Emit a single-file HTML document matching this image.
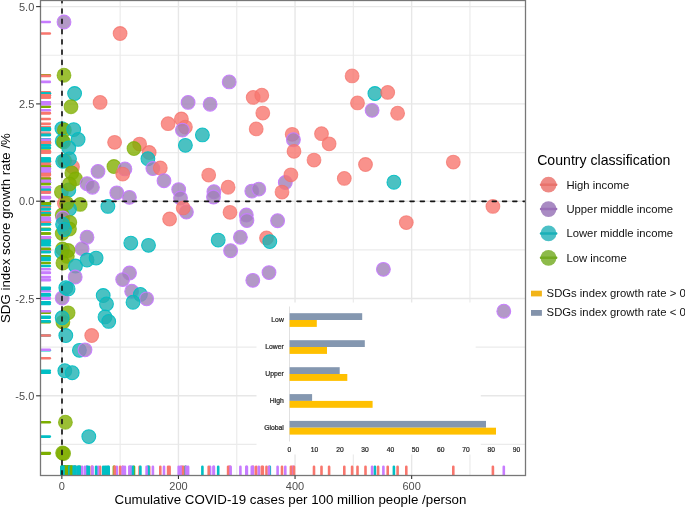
<!DOCTYPE html><html><head><meta charset="utf-8"><style>html,body{margin:0;padding:0;background:#fff;width:685px;height:508px;overflow:hidden}svg{display:block;will-change:transform}text{font-family:"Liberation Sans",sans-serif}</style></head><body>
<svg width="685" height="508" viewBox="0 0 685 508">
<defs><clipPath id="pc"><rect x="40.5" y="0.5" width="485.0" height="475.0"/></clipPath></defs>
<g clip-path="url(#pc)"><line x1="120.15" y1="0.5" x2="120.15" y2="475.5" stroke="#ebebeb" stroke-width="1.2"/><line x1="236.75" y1="0.5" x2="236.75" y2="475.5" stroke="#ebebeb" stroke-width="1.2"/><line x1="353.35" y1="0.5" x2="353.35" y2="475.5" stroke="#ebebeb" stroke-width="1.2"/><line x1="469.95" y1="0.5" x2="469.95" y2="475.5" stroke="#ebebeb" stroke-width="1.2"/><line x1="40.5" y1="55.25" x2="525.5" y2="55.25" stroke="#ebebeb" stroke-width="1.2"/><line x1="40.5" y1="152.55" x2="525.5" y2="152.55" stroke="#ebebeb" stroke-width="1.2"/><line x1="40.5" y1="249.85" x2="525.5" y2="249.85" stroke="#ebebeb" stroke-width="1.2"/><line x1="40.5" y1="347.15" x2="525.5" y2="347.15" stroke="#ebebeb" stroke-width="1.2"/><line x1="40.5" y1="444.45" x2="525.5" y2="444.45" stroke="#ebebeb" stroke-width="1.2"/><line x1="61.85" y1="0.5" x2="61.85" y2="475.5" stroke="#e7e7e7" stroke-width="1.4"/><line x1="178.45" y1="0.5" x2="178.45" y2="475.5" stroke="#e7e7e7" stroke-width="1.4"/><line x1="295.05" y1="0.5" x2="295.05" y2="475.5" stroke="#e7e7e7" stroke-width="1.4"/><line x1="411.65" y1="0.5" x2="411.65" y2="475.5" stroke="#e7e7e7" stroke-width="1.4"/><line x1="40.5" y1="6.60" x2="525.5" y2="6.60" stroke="#e7e7e7" stroke-width="1.4"/><line x1="40.5" y1="103.90" x2="525.5" y2="103.90" stroke="#e7e7e7" stroke-width="1.4"/><line x1="40.5" y1="201.20" x2="525.5" y2="201.20" stroke="#e7e7e7" stroke-width="1.4"/><line x1="40.5" y1="298.50" x2="525.5" y2="298.50" stroke="#e7e7e7" stroke-width="1.4"/><line x1="40.5" y1="395.80" x2="525.5" y2="395.80" stroke="#e7e7e7" stroke-width="1.4"/>
<circle cx="64.0" cy="22.0" r="6.9" fill="#A080B9" fill-opacity="0.80" stroke="#C77CFF" stroke-opacity="0.95" stroke-width="1.05"/>
<circle cx="120.1" cy="33.5" r="6.9" fill="#F8776F" fill-opacity="0.80" stroke="#F3716A" stroke-opacity="0.70" stroke-width="1.05"/>
<circle cx="64.0" cy="75.2" r="6.9" fill="#82AF01" fill-opacity="0.80" stroke="#7CAE00" stroke-opacity="0.70" stroke-width="1.05"/>
<circle cx="74.6" cy="93.5" r="6.9" fill="#1EB2B3" fill-opacity="0.80" stroke="#00BFC4" stroke-opacity="0.90" stroke-width="1.05"/>
<circle cx="229.2" cy="81.9" r="6.9" fill="#A080B9" fill-opacity="0.80" stroke="#C77CFF" stroke-opacity="0.95" stroke-width="1.05"/>
<circle cx="253.2" cy="97.4" r="6.9" fill="#F8776F" fill-opacity="0.80" stroke="#F3716A" stroke-opacity="0.70" stroke-width="1.05"/>
<circle cx="261.8" cy="95.2" r="6.9" fill="#F8776F" fill-opacity="0.80" stroke="#F3716A" stroke-opacity="0.70" stroke-width="1.05"/>
<circle cx="352.1" cy="75.9" r="6.9" fill="#F8776F" fill-opacity="0.80" stroke="#F3716A" stroke-opacity="0.70" stroke-width="1.05"/>
<circle cx="374.9" cy="93.5" r="6.9" fill="#1EB2B3" fill-opacity="0.80" stroke="#00BFC4" stroke-opacity="0.90" stroke-width="1.05"/>
<circle cx="387.7" cy="92.4" r="6.9" fill="#F8776F" fill-opacity="0.80" stroke="#F3716A" stroke-opacity="0.70" stroke-width="1.05"/>
<circle cx="357.5" cy="102.9" r="6.9" fill="#F8776F" fill-opacity="0.80" stroke="#F3716A" stroke-opacity="0.70" stroke-width="1.05"/>
<circle cx="372.1" cy="110.3" r="6.9" fill="#A080B9" fill-opacity="0.80" stroke="#C77CFF" stroke-opacity="0.95" stroke-width="1.05"/>
<circle cx="397.6" cy="113.2" r="6.9" fill="#F8776F" fill-opacity="0.80" stroke="#F3716A" stroke-opacity="0.70" stroke-width="1.05"/>
<circle cx="71.0" cy="106.7" r="6.9" fill="#82AF01" fill-opacity="0.80" stroke="#7CAE00" stroke-opacity="0.70" stroke-width="1.05"/>
<circle cx="100.1" cy="102.4" r="6.9" fill="#F8776F" fill-opacity="0.80" stroke="#F3716A" stroke-opacity="0.70" stroke-width="1.05"/>
<circle cx="188.1" cy="102.4" r="6.9" fill="#A080B9" fill-opacity="0.80" stroke="#C77CFF" stroke-opacity="0.95" stroke-width="1.05"/>
<circle cx="210.1" cy="104.2" r="6.9" fill="#A080B9" fill-opacity="0.80" stroke="#C77CFF" stroke-opacity="0.95" stroke-width="1.05"/>
<circle cx="262.8" cy="113.1" r="6.9" fill="#F8776F" fill-opacity="0.80" stroke="#F3716A" stroke-opacity="0.70" stroke-width="1.05"/>
<circle cx="256.2" cy="128.9" r="6.9" fill="#F8776F" fill-opacity="0.80" stroke="#F3716A" stroke-opacity="0.70" stroke-width="1.05"/>
<circle cx="292.2" cy="134.3" r="6.9" fill="#F8776F" fill-opacity="0.80" stroke="#F3716A" stroke-opacity="0.70" stroke-width="1.05"/>
<circle cx="293.4" cy="139.7" r="6.9" fill="#A080B9" fill-opacity="0.80" stroke="#C77CFF" stroke-opacity="0.95" stroke-width="1.05"/>
<circle cx="294.0" cy="151.3" r="6.9" fill="#F8776F" fill-opacity="0.80" stroke="#F3716A" stroke-opacity="0.70" stroke-width="1.05"/>
<circle cx="321.5" cy="133.7" r="6.9" fill="#F8776F" fill-opacity="0.80" stroke="#F3716A" stroke-opacity="0.70" stroke-width="1.05"/>
<circle cx="329.1" cy="143.8" r="6.9" fill="#F8776F" fill-opacity="0.80" stroke="#F3716A" stroke-opacity="0.70" stroke-width="1.05"/>
<circle cx="314.0" cy="160.1" r="6.9" fill="#F8776F" fill-opacity="0.80" stroke="#F3716A" stroke-opacity="0.70" stroke-width="1.05"/>
<circle cx="365.5" cy="164.5" r="6.9" fill="#F8776F" fill-opacity="0.80" stroke="#F3716A" stroke-opacity="0.70" stroke-width="1.05"/>
<circle cx="168.1" cy="123.7" r="6.9" fill="#F8776F" fill-opacity="0.80" stroke="#F3716A" stroke-opacity="0.70" stroke-width="1.05"/>
<circle cx="181.4" cy="119.0" r="6.9" fill="#F8776F" fill-opacity="0.80" stroke="#F3716A" stroke-opacity="0.70" stroke-width="1.05"/>
<circle cx="185.4" cy="127.1" r="6.9" fill="#F8776F" fill-opacity="0.80" stroke="#F3716A" stroke-opacity="0.70" stroke-width="1.05"/>
<circle cx="182.4" cy="130.1" r="6.9" fill="#A080B9" fill-opacity="0.80" stroke="#C77CFF" stroke-opacity="0.95" stroke-width="1.05"/>
<circle cx="202.4" cy="134.9" r="6.9" fill="#1EB2B3" fill-opacity="0.80" stroke="#00BFC4" stroke-opacity="0.90" stroke-width="1.05"/>
<circle cx="185.4" cy="145.3" r="6.9" fill="#1EB2B3" fill-opacity="0.80" stroke="#00BFC4" stroke-opacity="0.90" stroke-width="1.05"/>
<circle cx="139.6" cy="144.1" r="6.9" fill="#F8776F" fill-opacity="0.80" stroke="#F3716A" stroke-opacity="0.70" stroke-width="1.05"/>
<circle cx="134.0" cy="148.5" r="6.9" fill="#82AF01" fill-opacity="0.80" stroke="#7CAE00" stroke-opacity="0.70" stroke-width="1.05"/>
<circle cx="149.2" cy="152.5" r="6.9" fill="#F8776F" fill-opacity="0.80" stroke="#F3716A" stroke-opacity="0.70" stroke-width="1.05"/>
<circle cx="147.9" cy="158.7" r="6.9" fill="#1EB2B3" fill-opacity="0.80" stroke="#00BFC4" stroke-opacity="0.90" stroke-width="1.05"/>
<circle cx="114.6" cy="142.3" r="6.9" fill="#F8776F" fill-opacity="0.80" stroke="#F3716A" stroke-opacity="0.70" stroke-width="1.05"/>
<circle cx="61.9" cy="128.6" r="6.9" fill="#1EB2B3" fill-opacity="0.80" stroke="#00BFC4" stroke-opacity="0.90" stroke-width="1.05"/>
<circle cx="64.4" cy="130.0" r="6.9" fill="#82AF01" fill-opacity="0.80" stroke="#7CAE00" stroke-opacity="0.70" stroke-width="1.05"/>
<circle cx="73.7" cy="129.6" r="6.9" fill="#1EB2B3" fill-opacity="0.80" stroke="#00BFC4" stroke-opacity="0.90" stroke-width="1.05"/>
<circle cx="78.1" cy="139.4" r="6.9" fill="#1EB2B3" fill-opacity="0.80" stroke="#00BFC4" stroke-opacity="0.90" stroke-width="1.05"/>
<circle cx="62.2" cy="141.1" r="6.9" fill="#1EB2B3" fill-opacity="0.80" stroke="#00BFC4" stroke-opacity="0.90" stroke-width="1.05"/>
<circle cx="63.6" cy="141.9" r="6.9" fill="#82AF01" fill-opacity="0.80" stroke="#7CAE00" stroke-opacity="0.70" stroke-width="1.05"/>
<circle cx="68.8" cy="147.8" r="6.9" fill="#1EB2B3" fill-opacity="0.80" stroke="#00BFC4" stroke-opacity="0.90" stroke-width="1.05"/>
<circle cx="72.5" cy="166.8" r="6.9" fill="#F8776F" fill-opacity="0.80" stroke="#F3716A" stroke-opacity="0.70" stroke-width="1.05"/>
<circle cx="64.6" cy="160.8" r="6.9" fill="#82AF01" fill-opacity="0.80" stroke="#7CAE00" stroke-opacity="0.70" stroke-width="1.05"/>
<circle cx="62.7" cy="161.3" r="6.9" fill="#1EB2B3" fill-opacity="0.80" stroke="#00BFC4" stroke-opacity="0.90" stroke-width="1.05"/>
<circle cx="69.5" cy="158.9" r="6.9" fill="#1EB2B3" fill-opacity="0.80" stroke="#00BFC4" stroke-opacity="0.90" stroke-width="1.05"/>
<circle cx="71.8" cy="172.9" r="6.9" fill="#82AF01" fill-opacity="0.80" stroke="#7CAE00" stroke-opacity="0.70" stroke-width="1.05"/>
<circle cx="61.4" cy="192.1" r="6.9" fill="#82AF01" fill-opacity="0.80" stroke="#7CAE00" stroke-opacity="0.70" stroke-width="1.05"/>
<circle cx="68.8" cy="189.9" r="6.9" fill="#1EB2B3" fill-opacity="0.80" stroke="#00BFC4" stroke-opacity="0.90" stroke-width="1.05"/>
<circle cx="75.5" cy="178.8" r="6.9" fill="#82AF01" fill-opacity="0.80" stroke="#7CAE00" stroke-opacity="0.70" stroke-width="1.05"/>
<circle cx="69.5" cy="184.0" r="6.9" fill="#82AF01" fill-opacity="0.80" stroke="#7CAE00" stroke-opacity="0.70" stroke-width="1.05"/>
<circle cx="87.0" cy="183.7" r="6.9" fill="#A080B9" fill-opacity="0.80" stroke="#C77CFF" stroke-opacity="0.95" stroke-width="1.05"/>
<circle cx="92.4" cy="187.2" r="6.9" fill="#A080B9" fill-opacity="0.80" stroke="#C77CFF" stroke-opacity="0.95" stroke-width="1.05"/>
<circle cx="98.0" cy="171.4" r="6.9" fill="#A080B9" fill-opacity="0.80" stroke="#C77CFF" stroke-opacity="0.95" stroke-width="1.05"/>
<circle cx="113.9" cy="166.5" r="6.9" fill="#82AF01" fill-opacity="0.80" stroke="#7CAE00" stroke-opacity="0.70" stroke-width="1.05"/>
<circle cx="124.9" cy="168.9" r="6.9" fill="#A080B9" fill-opacity="0.80" stroke="#C77CFF" stroke-opacity="0.95" stroke-width="1.05"/>
<circle cx="122.7" cy="174.1" r="6.9" fill="#F8776F" fill-opacity="0.80" stroke="#F3716A" stroke-opacity="0.70" stroke-width="1.05"/>
<circle cx="116.8" cy="192.8" r="6.9" fill="#A080B9" fill-opacity="0.80" stroke="#C77CFF" stroke-opacity="0.95" stroke-width="1.05"/>
<circle cx="129.4" cy="197.3" r="6.9" fill="#A080B9" fill-opacity="0.80" stroke="#C77CFF" stroke-opacity="0.95" stroke-width="1.05"/>
<circle cx="107.9" cy="206.4" r="6.9" fill="#1EB2B3" fill-opacity="0.80" stroke="#00BFC4" stroke-opacity="0.90" stroke-width="1.05"/>
<circle cx="80.2" cy="204.4" r="6.9" fill="#82AF01" fill-opacity="0.80" stroke="#7CAE00" stroke-opacity="0.70" stroke-width="1.05"/>
<circle cx="64.4" cy="203.5" r="6.9" fill="#F8776F" fill-opacity="0.80" stroke="#F3716A" stroke-opacity="0.70" stroke-width="1.05"/>
<circle cx="69.5" cy="209.1" r="6.9" fill="#1EB2B3" fill-opacity="0.80" stroke="#00BFC4" stroke-opacity="0.90" stroke-width="1.05"/>
<circle cx="66.6" cy="203.2" r="6.9" fill="#82AF01" fill-opacity="0.80" stroke="#7CAE00" stroke-opacity="0.70" stroke-width="1.05"/>
<circle cx="62.2" cy="215.0" r="6.9" fill="#82AF01" fill-opacity="0.80" stroke="#7CAE00" stroke-opacity="0.70" stroke-width="1.05"/>
<circle cx="62.9" cy="218.0" r="6.9" fill="#A080B9" fill-opacity="0.80" stroke="#C77CFF" stroke-opacity="0.95" stroke-width="1.05"/>
<circle cx="69.8" cy="222.3" r="6.9" fill="#82AF01" fill-opacity="0.80" stroke="#7CAE00" stroke-opacity="0.70" stroke-width="1.05"/>
<circle cx="62.2" cy="233.5" r="6.9" fill="#82AF01" fill-opacity="0.80" stroke="#7CAE00" stroke-opacity="0.70" stroke-width="1.05"/>
<circle cx="69.5" cy="229.0" r="6.9" fill="#82AF01" fill-opacity="0.80" stroke="#7CAE00" stroke-opacity="0.70" stroke-width="1.05"/>
<circle cx="62.6" cy="224.2" r="6.9" fill="#1EB2B3" fill-opacity="0.80" stroke="#00BFC4" stroke-opacity="0.90" stroke-width="1.05"/>
<circle cx="64.5" cy="229.5" r="6.9" fill="#1EB2B3" fill-opacity="0.80" stroke="#00BFC4" stroke-opacity="0.90" stroke-width="1.05"/>
<circle cx="152.9" cy="168.5" r="6.9" fill="#A080B9" fill-opacity="0.80" stroke="#C77CFF" stroke-opacity="0.95" stroke-width="1.05"/>
<circle cx="160.3" cy="168.0" r="6.9" fill="#F8776F" fill-opacity="0.80" stroke="#F3716A" stroke-opacity="0.70" stroke-width="1.05"/>
<circle cx="164.0" cy="180.7" r="6.9" fill="#A080B9" fill-opacity="0.80" stroke="#C77CFF" stroke-opacity="0.95" stroke-width="1.05"/>
<circle cx="178.7" cy="189.6" r="6.9" fill="#A080B9" fill-opacity="0.80" stroke="#C77CFF" stroke-opacity="0.95" stroke-width="1.05"/>
<circle cx="180.5" cy="198.0" r="6.9" fill="#A080B9" fill-opacity="0.80" stroke="#C77CFF" stroke-opacity="0.95" stroke-width="1.05"/>
<circle cx="186.4" cy="212.0" r="6.9" fill="#A080B9" fill-opacity="0.80" stroke="#C77CFF" stroke-opacity="0.95" stroke-width="1.05"/>
<circle cx="183.2" cy="207.9" r="6.9" fill="#F8776F" fill-opacity="0.80" stroke="#F3716A" stroke-opacity="0.70" stroke-width="1.05"/>
<circle cx="169.6" cy="219.0" r="6.9" fill="#F8776F" fill-opacity="0.80" stroke="#F3716A" stroke-opacity="0.70" stroke-width="1.05"/>
<circle cx="208.7" cy="175.1" r="6.9" fill="#F8776F" fill-opacity="0.80" stroke="#F3716A" stroke-opacity="0.70" stroke-width="1.05"/>
<circle cx="213.9" cy="191.7" r="6.9" fill="#A080B9" fill-opacity="0.80" stroke="#C77CFF" stroke-opacity="0.95" stroke-width="1.05"/>
<circle cx="213.5" cy="197.0" r="6.9" fill="#A080B9" fill-opacity="0.80" stroke="#C77CFF" stroke-opacity="0.95" stroke-width="1.05"/>
<circle cx="285.3" cy="182.5" r="6.9" fill="#A080B9" fill-opacity="0.80" stroke="#C77CFF" stroke-opacity="0.95" stroke-width="1.05"/>
<circle cx="290.9" cy="174.8" r="6.9" fill="#F8776F" fill-opacity="0.80" stroke="#F3716A" stroke-opacity="0.70" stroke-width="1.05"/>
<circle cx="282.0" cy="192.1" r="6.9" fill="#F8776F" fill-opacity="0.80" stroke="#F3716A" stroke-opacity="0.70" stroke-width="1.05"/>
<circle cx="228.1" cy="187.2" r="6.9" fill="#F8776F" fill-opacity="0.80" stroke="#F3716A" stroke-opacity="0.70" stroke-width="1.05"/>
<circle cx="251.8" cy="191.1" r="6.9" fill="#A080B9" fill-opacity="0.80" stroke="#C77CFF" stroke-opacity="0.95" stroke-width="1.05"/>
<circle cx="258.8" cy="189.1" r="6.9" fill="#A080B9" fill-opacity="0.80" stroke="#C77CFF" stroke-opacity="0.95" stroke-width="1.05"/>
<circle cx="230.0" cy="212.3" r="6.9" fill="#F8776F" fill-opacity="0.80" stroke="#F3716A" stroke-opacity="0.70" stroke-width="1.05"/>
<circle cx="246.3" cy="215.0" r="6.9" fill="#A080B9" fill-opacity="0.80" stroke="#C77CFF" stroke-opacity="0.95" stroke-width="1.05"/>
<circle cx="246.9" cy="220.5" r="6.9" fill="#A080B9" fill-opacity="0.80" stroke="#C77CFF" stroke-opacity="0.95" stroke-width="1.05"/>
<circle cx="277.6" cy="220.7" r="6.9" fill="#A080B9" fill-opacity="0.80" stroke="#C77CFF" stroke-opacity="0.95" stroke-width="1.05"/>
<circle cx="344.3" cy="178.4" r="6.9" fill="#F8776F" fill-opacity="0.80" stroke="#F3716A" stroke-opacity="0.70" stroke-width="1.05"/>
<circle cx="393.9" cy="182.2" r="6.9" fill="#1EB2B3" fill-opacity="0.80" stroke="#00BFC4" stroke-opacity="0.90" stroke-width="1.05"/>
<circle cx="453.3" cy="162.1" r="6.9" fill="#F8776F" fill-opacity="0.80" stroke="#F3716A" stroke-opacity="0.70" stroke-width="1.05"/>
<circle cx="492.9" cy="206.4" r="6.9" fill="#F8776F" fill-opacity="0.80" stroke="#F3716A" stroke-opacity="0.70" stroke-width="1.05"/>
<circle cx="406.3" cy="222.6" r="6.9" fill="#F8776F" fill-opacity="0.80" stroke="#F3716A" stroke-opacity="0.70" stroke-width="1.05"/>
<circle cx="87.0" cy="237.2" r="6.9" fill="#A080B9" fill-opacity="0.80" stroke="#C77CFF" stroke-opacity="0.95" stroke-width="1.05"/>
<circle cx="82.1" cy="248.7" r="6.9" fill="#A080B9" fill-opacity="0.80" stroke="#C77CFF" stroke-opacity="0.95" stroke-width="1.05"/>
<circle cx="62.5" cy="249.0" r="6.9" fill="#82AF01" fill-opacity="0.80" stroke="#7CAE00" stroke-opacity="0.70" stroke-width="1.05"/>
<circle cx="61.8" cy="252.0" r="6.9" fill="#1EB2B3" fill-opacity="0.80" stroke="#00BFC4" stroke-opacity="0.90" stroke-width="1.05"/>
<circle cx="68.1" cy="250.5" r="6.9" fill="#82AF01" fill-opacity="0.80" stroke="#7CAE00" stroke-opacity="0.70" stroke-width="1.05"/>
<circle cx="67.3" cy="256.4" r="6.9" fill="#82AF01" fill-opacity="0.80" stroke="#7CAE00" stroke-opacity="0.70" stroke-width="1.05"/>
<circle cx="62.9" cy="263.0" r="6.9" fill="#82AF01" fill-opacity="0.80" stroke="#7CAE00" stroke-opacity="0.70" stroke-width="1.05"/>
<circle cx="75.5" cy="266.0" r="6.9" fill="#1EB2B3" fill-opacity="0.80" stroke="#00BFC4" stroke-opacity="0.90" stroke-width="1.05"/>
<circle cx="87.0" cy="260.0" r="6.9" fill="#1EB2B3" fill-opacity="0.80" stroke="#00BFC4" stroke-opacity="0.90" stroke-width="1.05"/>
<circle cx="96.1" cy="258.1" r="6.9" fill="#1EB2B3" fill-opacity="0.80" stroke="#00BFC4" stroke-opacity="0.90" stroke-width="1.05"/>
<circle cx="75.2" cy="277.0" r="6.9" fill="#A080B9" fill-opacity="0.80" stroke="#C77CFF" stroke-opacity="0.95" stroke-width="1.05"/>
<circle cx="130.8" cy="243.1" r="6.9" fill="#1EB2B3" fill-opacity="0.80" stroke="#00BFC4" stroke-opacity="0.90" stroke-width="1.05"/>
<circle cx="129.5" cy="273.0" r="6.9" fill="#A080B9" fill-opacity="0.80" stroke="#C77CFF" stroke-opacity="0.95" stroke-width="1.05"/>
<circle cx="122.7" cy="279.6" r="6.9" fill="#A080B9" fill-opacity="0.80" stroke="#C77CFF" stroke-opacity="0.95" stroke-width="1.05"/>
<circle cx="131.7" cy="291.2" r="6.9" fill="#A080B9" fill-opacity="0.80" stroke="#C77CFF" stroke-opacity="0.95" stroke-width="1.05"/>
<circle cx="62.2" cy="298.0" r="6.9" fill="#A080B9" fill-opacity="0.80" stroke="#C77CFF" stroke-opacity="0.95" stroke-width="1.05"/>
<circle cx="65.8" cy="287.7" r="6.9" fill="#1EB2B3" fill-opacity="0.80" stroke="#00BFC4" stroke-opacity="0.90" stroke-width="1.05"/>
<circle cx="68.1" cy="288.9" r="6.9" fill="#1EB2B3" fill-opacity="0.80" stroke="#00BFC4" stroke-opacity="0.90" stroke-width="1.05"/>
<circle cx="103.2" cy="295.5" r="6.9" fill="#1EB2B3" fill-opacity="0.80" stroke="#00BFC4" stroke-opacity="0.90" stroke-width="1.05"/>
<circle cx="148.5" cy="245.3" r="6.9" fill="#1EB2B3" fill-opacity="0.80" stroke="#00BFC4" stroke-opacity="0.90" stroke-width="1.05"/>
<circle cx="218.2" cy="240.1" r="6.9" fill="#1EB2B3" fill-opacity="0.80" stroke="#00BFC4" stroke-opacity="0.90" stroke-width="1.05"/>
<circle cx="230.6" cy="250.7" r="6.9" fill="#A080B9" fill-opacity="0.80" stroke="#C77CFF" stroke-opacity="0.95" stroke-width="1.05"/>
<circle cx="240.4" cy="237.2" r="6.9" fill="#A080B9" fill-opacity="0.80" stroke="#C77CFF" stroke-opacity="0.95" stroke-width="1.05"/>
<circle cx="266.5" cy="237.9" r="6.9" fill="#F8776F" fill-opacity="0.80" stroke="#F3716A" stroke-opacity="0.70" stroke-width="1.05"/>
<circle cx="269.8" cy="241.6" r="6.9" fill="#1EB2B3" fill-opacity="0.80" stroke="#00BFC4" stroke-opacity="0.90" stroke-width="1.05"/>
<circle cx="269.0" cy="272.6" r="6.9" fill="#A080B9" fill-opacity="0.80" stroke="#C77CFF" stroke-opacity="0.95" stroke-width="1.05"/>
<circle cx="252.8" cy="280.3" r="6.9" fill="#A080B9" fill-opacity="0.80" stroke="#C77CFF" stroke-opacity="0.95" stroke-width="1.05"/>
<circle cx="383.4" cy="269.3" r="6.9" fill="#A080B9" fill-opacity="0.80" stroke="#C77CFF" stroke-opacity="0.95" stroke-width="1.05"/>
<circle cx="68.1" cy="312.8" r="6.9" fill="#82AF01" fill-opacity="0.80" stroke="#7CAE00" stroke-opacity="0.70" stroke-width="1.05"/>
<circle cx="62.9" cy="322.1" r="6.9" fill="#82AF01" fill-opacity="0.80" stroke="#7CAE00" stroke-opacity="0.70" stroke-width="1.05"/>
<circle cx="62.2" cy="317.7" r="6.9" fill="#1EB2B3" fill-opacity="0.80" stroke="#00BFC4" stroke-opacity="0.90" stroke-width="1.05"/>
<circle cx="65.8" cy="335.5" r="6.9" fill="#1EB2B3" fill-opacity="0.80" stroke="#00BFC4" stroke-opacity="0.90" stroke-width="1.05"/>
<circle cx="91.7" cy="335.5" r="6.9" fill="#F8776F" fill-opacity="0.80" stroke="#F3716A" stroke-opacity="0.70" stroke-width="1.05"/>
<circle cx="106.5" cy="303.9" r="6.9" fill="#1EB2B3" fill-opacity="0.80" stroke="#00BFC4" stroke-opacity="0.90" stroke-width="1.05"/>
<circle cx="105.0" cy="316.9" r="6.9" fill="#1EB2B3" fill-opacity="0.80" stroke="#00BFC4" stroke-opacity="0.90" stroke-width="1.05"/>
<circle cx="108.7" cy="321.4" r="6.9" fill="#1EB2B3" fill-opacity="0.80" stroke="#00BFC4" stroke-opacity="0.90" stroke-width="1.05"/>
<circle cx="140.4" cy="294.4" r="6.9" fill="#1EB2B3" fill-opacity="0.80" stroke="#00BFC4" stroke-opacity="0.90" stroke-width="1.05"/>
<circle cx="146.6" cy="298.8" r="6.9" fill="#A080B9" fill-opacity="0.80" stroke="#C77CFF" stroke-opacity="0.95" stroke-width="1.05"/>
<circle cx="133.0" cy="302.2" r="6.9" fill="#1EB2B3" fill-opacity="0.80" stroke="#00BFC4" stroke-opacity="0.90" stroke-width="1.05"/>
<circle cx="79.4" cy="350.3" r="6.9" fill="#1EB2B3" fill-opacity="0.80" stroke="#00BFC4" stroke-opacity="0.90" stroke-width="1.05"/>
<circle cx="85.0" cy="349.8" r="6.9" fill="#A080B9" fill-opacity="0.80" stroke="#C77CFF" stroke-opacity="0.95" stroke-width="1.05"/>
<circle cx="64.8" cy="370.7" r="6.9" fill="#1EB2B3" fill-opacity="0.80" stroke="#00BFC4" stroke-opacity="0.90" stroke-width="1.05"/>
<circle cx="72.2" cy="372.7" r="6.9" fill="#1EB2B3" fill-opacity="0.80" stroke="#00BFC4" stroke-opacity="0.90" stroke-width="1.05"/>
<circle cx="65.4" cy="422.2" r="6.9" fill="#82AF01" fill-opacity="0.80" stroke="#7CAE00" stroke-opacity="0.70" stroke-width="1.05"/>
<circle cx="88.8" cy="436.6" r="6.9" fill="#1EB2B3" fill-opacity="0.80" stroke="#00BFC4" stroke-opacity="0.90" stroke-width="1.05"/>
<circle cx="62.6" cy="453.0" r="6.9" fill="#82AF01" fill-opacity="0.80" stroke="#7CAE00" stroke-opacity="0.70" stroke-width="1.05"/>
<circle cx="63.6" cy="453.6" r="6.9" fill="#82AF01" fill-opacity="0.80" stroke="#7CAE00" stroke-opacity="0.70" stroke-width="1.05"/>
<circle cx="503.8" cy="311.2" r="6.9" fill="#A080B9" fill-opacity="0.80" stroke="#C77CFF" stroke-opacity="0.95" stroke-width="1.05"/>
<line x1="40.5" y1="22.0" x2="49.8" y2="22.0" stroke="#C77CFF" stroke-width="2.6" stroke-linecap="round"/>
<line x1="40.5" y1="33.5" x2="49.8" y2="33.5" stroke="#F8766D" stroke-width="2.6" stroke-linecap="round"/>
<line x1="40.5" y1="75.2" x2="49.8" y2="75.2" stroke="#7CAE00" stroke-width="2.6" stroke-linecap="round"/>
<line x1="40.5" y1="93.5" x2="49.8" y2="93.5" stroke="#00BFC4" stroke-width="2.6" stroke-linecap="round"/>
<line x1="40.5" y1="81.9" x2="49.8" y2="81.9" stroke="#C77CFF" stroke-width="2.6" stroke-linecap="round"/>
<line x1="40.5" y1="97.4" x2="49.8" y2="97.4" stroke="#F8766D" stroke-width="2.6" stroke-linecap="round"/>
<line x1="40.5" y1="95.2" x2="49.8" y2="95.2" stroke="#F8766D" stroke-width="2.6" stroke-linecap="round"/>
<line x1="40.5" y1="75.9" x2="49.8" y2="75.9" stroke="#F8766D" stroke-width="2.6" stroke-linecap="round"/>
<line x1="40.5" y1="93.5" x2="49.8" y2="93.5" stroke="#00BFC4" stroke-width="2.6" stroke-linecap="round"/>
<line x1="40.5" y1="92.4" x2="49.8" y2="92.4" stroke="#F8766D" stroke-width="2.6" stroke-linecap="round"/>
<line x1="40.5" y1="102.9" x2="49.8" y2="102.9" stroke="#F8766D" stroke-width="2.6" stroke-linecap="round"/>
<line x1="40.5" y1="110.3" x2="49.8" y2="110.3" stroke="#C77CFF" stroke-width="2.6" stroke-linecap="round"/>
<line x1="40.5" y1="113.2" x2="49.8" y2="113.2" stroke="#F8766D" stroke-width="2.6" stroke-linecap="round"/>
<line x1="40.5" y1="106.7" x2="49.8" y2="106.7" stroke="#7CAE00" stroke-width="2.6" stroke-linecap="round"/>
<line x1="40.5" y1="102.4" x2="49.8" y2="102.4" stroke="#F8766D" stroke-width="2.6" stroke-linecap="round"/>
<line x1="40.5" y1="102.4" x2="49.8" y2="102.4" stroke="#C77CFF" stroke-width="2.6" stroke-linecap="round"/>
<line x1="40.5" y1="104.2" x2="49.8" y2="104.2" stroke="#C77CFF" stroke-width="2.6" stroke-linecap="round"/>
<line x1="40.5" y1="113.1" x2="49.8" y2="113.1" stroke="#F8766D" stroke-width="2.6" stroke-linecap="round"/>
<line x1="40.5" y1="128.9" x2="49.8" y2="128.9" stroke="#F8766D" stroke-width="2.6" stroke-linecap="round"/>
<line x1="40.5" y1="134.3" x2="49.8" y2="134.3" stroke="#F8766D" stroke-width="2.6" stroke-linecap="round"/>
<line x1="40.5" y1="139.7" x2="49.8" y2="139.7" stroke="#C77CFF" stroke-width="2.6" stroke-linecap="round"/>
<line x1="40.5" y1="151.3" x2="49.8" y2="151.3" stroke="#F8766D" stroke-width="2.6" stroke-linecap="round"/>
<line x1="40.5" y1="133.7" x2="49.8" y2="133.7" stroke="#F8766D" stroke-width="2.6" stroke-linecap="round"/>
<line x1="40.5" y1="143.8" x2="49.8" y2="143.8" stroke="#F8766D" stroke-width="2.6" stroke-linecap="round"/>
<line x1="40.5" y1="160.1" x2="49.8" y2="160.1" stroke="#F8766D" stroke-width="2.6" stroke-linecap="round"/>
<line x1="40.5" y1="164.5" x2="49.8" y2="164.5" stroke="#F8766D" stroke-width="2.6" stroke-linecap="round"/>
<line x1="40.5" y1="123.7" x2="49.8" y2="123.7" stroke="#F8766D" stroke-width="2.6" stroke-linecap="round"/>
<line x1="40.5" y1="119.0" x2="49.8" y2="119.0" stroke="#F8766D" stroke-width="2.6" stroke-linecap="round"/>
<line x1="40.5" y1="127.1" x2="49.8" y2="127.1" stroke="#F8766D" stroke-width="2.6" stroke-linecap="round"/>
<line x1="40.5" y1="130.1" x2="49.8" y2="130.1" stroke="#C77CFF" stroke-width="2.6" stroke-linecap="round"/>
<line x1="40.5" y1="134.9" x2="49.8" y2="134.9" stroke="#00BFC4" stroke-width="2.6" stroke-linecap="round"/>
<line x1="40.5" y1="145.3" x2="49.8" y2="145.3" stroke="#00BFC4" stroke-width="2.6" stroke-linecap="round"/>
<line x1="40.5" y1="144.1" x2="49.8" y2="144.1" stroke="#F8766D" stroke-width="2.6" stroke-linecap="round"/>
<line x1="40.5" y1="148.5" x2="49.8" y2="148.5" stroke="#7CAE00" stroke-width="2.6" stroke-linecap="round"/>
<line x1="40.5" y1="152.5" x2="49.8" y2="152.5" stroke="#F8766D" stroke-width="2.6" stroke-linecap="round"/>
<line x1="40.5" y1="158.7" x2="49.8" y2="158.7" stroke="#00BFC4" stroke-width="2.6" stroke-linecap="round"/>
<line x1="40.5" y1="142.3" x2="49.8" y2="142.3" stroke="#F8766D" stroke-width="2.6" stroke-linecap="round"/>
<line x1="40.5" y1="128.6" x2="49.8" y2="128.6" stroke="#00BFC4" stroke-width="2.6" stroke-linecap="round"/>
<line x1="40.5" y1="130.0" x2="49.8" y2="130.0" stroke="#7CAE00" stroke-width="2.6" stroke-linecap="round"/>
<line x1="40.5" y1="129.6" x2="49.8" y2="129.6" stroke="#00BFC4" stroke-width="2.6" stroke-linecap="round"/>
<line x1="40.5" y1="139.4" x2="49.8" y2="139.4" stroke="#00BFC4" stroke-width="2.6" stroke-linecap="round"/>
<line x1="40.5" y1="141.1" x2="49.8" y2="141.1" stroke="#00BFC4" stroke-width="2.6" stroke-linecap="round"/>
<line x1="40.5" y1="141.9" x2="49.8" y2="141.9" stroke="#7CAE00" stroke-width="2.6" stroke-linecap="round"/>
<line x1="40.5" y1="147.8" x2="49.8" y2="147.8" stroke="#00BFC4" stroke-width="2.6" stroke-linecap="round"/>
<line x1="40.5" y1="166.8" x2="49.8" y2="166.8" stroke="#F8766D" stroke-width="2.6" stroke-linecap="round"/>
<line x1="40.5" y1="160.8" x2="49.8" y2="160.8" stroke="#7CAE00" stroke-width="2.6" stroke-linecap="round"/>
<line x1="40.5" y1="161.3" x2="49.8" y2="161.3" stroke="#00BFC4" stroke-width="2.6" stroke-linecap="round"/>
<line x1="40.5" y1="158.9" x2="49.8" y2="158.9" stroke="#00BFC4" stroke-width="2.6" stroke-linecap="round"/>
<line x1="40.5" y1="172.9" x2="49.8" y2="172.9" stroke="#7CAE00" stroke-width="2.6" stroke-linecap="round"/>
<line x1="40.5" y1="192.1" x2="49.8" y2="192.1" stroke="#7CAE00" stroke-width="2.6" stroke-linecap="round"/>
<line x1="40.5" y1="189.9" x2="49.8" y2="189.9" stroke="#00BFC4" stroke-width="2.6" stroke-linecap="round"/>
<line x1="40.5" y1="178.8" x2="49.8" y2="178.8" stroke="#7CAE00" stroke-width="2.6" stroke-linecap="round"/>
<line x1="40.5" y1="184.0" x2="49.8" y2="184.0" stroke="#7CAE00" stroke-width="2.6" stroke-linecap="round"/>
<line x1="40.5" y1="183.7" x2="49.8" y2="183.7" stroke="#C77CFF" stroke-width="2.6" stroke-linecap="round"/>
<line x1="40.5" y1="187.2" x2="49.8" y2="187.2" stroke="#C77CFF" stroke-width="2.6" stroke-linecap="round"/>
<line x1="40.5" y1="171.4" x2="49.8" y2="171.4" stroke="#C77CFF" stroke-width="2.6" stroke-linecap="round"/>
<line x1="40.5" y1="166.5" x2="49.8" y2="166.5" stroke="#7CAE00" stroke-width="2.6" stroke-linecap="round"/>
<line x1="40.5" y1="168.9" x2="49.8" y2="168.9" stroke="#C77CFF" stroke-width="2.6" stroke-linecap="round"/>
<line x1="40.5" y1="174.1" x2="49.8" y2="174.1" stroke="#F8766D" stroke-width="2.6" stroke-linecap="round"/>
<line x1="40.5" y1="192.8" x2="49.8" y2="192.8" stroke="#C77CFF" stroke-width="2.6" stroke-linecap="round"/>
<line x1="40.5" y1="197.3" x2="49.8" y2="197.3" stroke="#C77CFF" stroke-width="2.6" stroke-linecap="round"/>
<line x1="40.5" y1="206.4" x2="49.8" y2="206.4" stroke="#00BFC4" stroke-width="2.6" stroke-linecap="round"/>
<line x1="40.5" y1="204.4" x2="49.8" y2="204.4" stroke="#7CAE00" stroke-width="2.6" stroke-linecap="round"/>
<line x1="40.5" y1="203.5" x2="49.8" y2="203.5" stroke="#F8766D" stroke-width="2.6" stroke-linecap="round"/>
<line x1="40.5" y1="209.1" x2="49.8" y2="209.1" stroke="#00BFC4" stroke-width="2.6" stroke-linecap="round"/>
<line x1="40.5" y1="203.2" x2="49.8" y2="203.2" stroke="#7CAE00" stroke-width="2.6" stroke-linecap="round"/>
<line x1="40.5" y1="213.4" x2="49.8" y2="213.4" stroke="#00BFC4" stroke-width="2.6" stroke-linecap="round"/>
<line x1="40.5" y1="215.0" x2="49.8" y2="215.0" stroke="#7CAE00" stroke-width="2.6" stroke-linecap="round"/>
<line x1="40.5" y1="218.0" x2="49.8" y2="218.0" stroke="#C77CFF" stroke-width="2.6" stroke-linecap="round"/>
<line x1="40.5" y1="222.3" x2="49.8" y2="222.3" stroke="#7CAE00" stroke-width="2.6" stroke-linecap="round"/>
<line x1="40.5" y1="233.5" x2="49.8" y2="233.5" stroke="#7CAE00" stroke-width="2.6" stroke-linecap="round"/>
<line x1="40.5" y1="229.0" x2="49.8" y2="229.0" stroke="#7CAE00" stroke-width="2.6" stroke-linecap="round"/>
<line x1="40.5" y1="224.2" x2="49.8" y2="224.2" stroke="#00BFC4" stroke-width="2.6" stroke-linecap="round"/>
<line x1="40.5" y1="229.5" x2="49.8" y2="229.5" stroke="#00BFC4" stroke-width="2.6" stroke-linecap="round"/>
<line x1="40.5" y1="168.5" x2="49.8" y2="168.5" stroke="#C77CFF" stroke-width="2.6" stroke-linecap="round"/>
<line x1="40.5" y1="168.0" x2="49.8" y2="168.0" stroke="#F8766D" stroke-width="2.6" stroke-linecap="round"/>
<line x1="40.5" y1="180.7" x2="49.8" y2="180.7" stroke="#C77CFF" stroke-width="2.6" stroke-linecap="round"/>
<line x1="40.5" y1="189.6" x2="49.8" y2="189.6" stroke="#C77CFF" stroke-width="2.6" stroke-linecap="round"/>
<line x1="40.5" y1="198.0" x2="49.8" y2="198.0" stroke="#C77CFF" stroke-width="2.6" stroke-linecap="round"/>
<line x1="40.5" y1="212.0" x2="49.8" y2="212.0" stroke="#C77CFF" stroke-width="2.6" stroke-linecap="round"/>
<line x1="40.5" y1="207.9" x2="49.8" y2="207.9" stroke="#F8766D" stroke-width="2.6" stroke-linecap="round"/>
<line x1="40.5" y1="219.0" x2="49.8" y2="219.0" stroke="#F8766D" stroke-width="2.6" stroke-linecap="round"/>
<line x1="40.5" y1="175.1" x2="49.8" y2="175.1" stroke="#F8766D" stroke-width="2.6" stroke-linecap="round"/>
<line x1="40.5" y1="191.7" x2="49.8" y2="191.7" stroke="#C77CFF" stroke-width="2.6" stroke-linecap="round"/>
<line x1="40.5" y1="197.0" x2="49.8" y2="197.0" stroke="#C77CFF" stroke-width="2.6" stroke-linecap="round"/>
<line x1="40.5" y1="182.5" x2="49.8" y2="182.5" stroke="#C77CFF" stroke-width="2.6" stroke-linecap="round"/>
<line x1="40.5" y1="174.8" x2="49.8" y2="174.8" stroke="#F8766D" stroke-width="2.6" stroke-linecap="round"/>
<line x1="40.5" y1="192.1" x2="49.8" y2="192.1" stroke="#F8766D" stroke-width="2.6" stroke-linecap="round"/>
<line x1="40.5" y1="187.2" x2="49.8" y2="187.2" stroke="#F8766D" stroke-width="2.6" stroke-linecap="round"/>
<line x1="40.5" y1="191.1" x2="49.8" y2="191.1" stroke="#C77CFF" stroke-width="2.6" stroke-linecap="round"/>
<line x1="40.5" y1="189.1" x2="49.8" y2="189.1" stroke="#C77CFF" stroke-width="2.6" stroke-linecap="round"/>
<line x1="40.5" y1="212.3" x2="49.8" y2="212.3" stroke="#F8766D" stroke-width="2.6" stroke-linecap="round"/>
<line x1="40.5" y1="215.0" x2="49.8" y2="215.0" stroke="#C77CFF" stroke-width="2.6" stroke-linecap="round"/>
<line x1="40.5" y1="220.5" x2="49.8" y2="220.5" stroke="#C77CFF" stroke-width="2.6" stroke-linecap="round"/>
<line x1="40.5" y1="220.7" x2="49.8" y2="220.7" stroke="#C77CFF" stroke-width="2.6" stroke-linecap="round"/>
<line x1="40.5" y1="178.4" x2="49.8" y2="178.4" stroke="#F8766D" stroke-width="2.6" stroke-linecap="round"/>
<line x1="40.5" y1="182.2" x2="49.8" y2="182.2" stroke="#00BFC4" stroke-width="2.6" stroke-linecap="round"/>
<line x1="40.5" y1="162.1" x2="49.8" y2="162.1" stroke="#F8766D" stroke-width="2.6" stroke-linecap="round"/>
<line x1="40.5" y1="206.4" x2="49.8" y2="206.4" stroke="#F8766D" stroke-width="2.6" stroke-linecap="round"/>
<line x1="40.5" y1="222.6" x2="49.8" y2="222.6" stroke="#F8766D" stroke-width="2.6" stroke-linecap="round"/>
<line x1="40.5" y1="237.2" x2="49.8" y2="237.2" stroke="#C77CFF" stroke-width="2.6" stroke-linecap="round"/>
<line x1="40.5" y1="248.7" x2="49.8" y2="248.7" stroke="#C77CFF" stroke-width="2.6" stroke-linecap="round"/>
<line x1="40.5" y1="249.0" x2="49.8" y2="249.0" stroke="#7CAE00" stroke-width="2.6" stroke-linecap="round"/>
<line x1="40.5" y1="252.0" x2="49.8" y2="252.0" stroke="#00BFC4" stroke-width="2.6" stroke-linecap="round"/>
<line x1="40.5" y1="250.5" x2="49.8" y2="250.5" stroke="#7CAE00" stroke-width="2.6" stroke-linecap="round"/>
<line x1="40.5" y1="256.4" x2="49.8" y2="256.4" stroke="#7CAE00" stroke-width="2.6" stroke-linecap="round"/>
<line x1="40.5" y1="263.0" x2="49.8" y2="263.0" stroke="#7CAE00" stroke-width="2.6" stroke-linecap="round"/>
<line x1="40.5" y1="266.0" x2="49.8" y2="266.0" stroke="#00BFC4" stroke-width="2.6" stroke-linecap="round"/>
<line x1="40.5" y1="260.0" x2="49.8" y2="260.0" stroke="#00BFC4" stroke-width="2.6" stroke-linecap="round"/>
<line x1="40.5" y1="258.1" x2="49.8" y2="258.1" stroke="#00BFC4" stroke-width="2.6" stroke-linecap="round"/>
<line x1="40.5" y1="277.0" x2="49.8" y2="277.0" stroke="#C77CFF" stroke-width="2.6" stroke-linecap="round"/>
<line x1="40.5" y1="243.1" x2="49.8" y2="243.1" stroke="#00BFC4" stroke-width="2.6" stroke-linecap="round"/>
<line x1="40.5" y1="273.0" x2="49.8" y2="273.0" stroke="#C77CFF" stroke-width="2.6" stroke-linecap="round"/>
<line x1="40.5" y1="279.6" x2="49.8" y2="279.6" stroke="#C77CFF" stroke-width="2.6" stroke-linecap="round"/>
<line x1="40.5" y1="291.2" x2="49.8" y2="291.2" stroke="#C77CFF" stroke-width="2.6" stroke-linecap="round"/>
<line x1="40.5" y1="298.0" x2="49.8" y2="298.0" stroke="#C77CFF" stroke-width="2.6" stroke-linecap="round"/>
<line x1="40.5" y1="287.7" x2="49.8" y2="287.7" stroke="#00BFC4" stroke-width="2.6" stroke-linecap="round"/>
<line x1="40.5" y1="288.9" x2="49.8" y2="288.9" stroke="#00BFC4" stroke-width="2.6" stroke-linecap="round"/>
<line x1="40.5" y1="295.5" x2="49.8" y2="295.5" stroke="#00BFC4" stroke-width="2.6" stroke-linecap="round"/>
<line x1="40.5" y1="245.3" x2="49.8" y2="245.3" stroke="#00BFC4" stroke-width="2.6" stroke-linecap="round"/>
<line x1="40.5" y1="240.1" x2="49.8" y2="240.1" stroke="#00BFC4" stroke-width="2.6" stroke-linecap="round"/>
<line x1="40.5" y1="250.7" x2="49.8" y2="250.7" stroke="#C77CFF" stroke-width="2.6" stroke-linecap="round"/>
<line x1="40.5" y1="237.2" x2="49.8" y2="237.2" stroke="#C77CFF" stroke-width="2.6" stroke-linecap="round"/>
<line x1="40.5" y1="237.9" x2="49.8" y2="237.9" stroke="#F8766D" stroke-width="2.6" stroke-linecap="round"/>
<line x1="40.5" y1="241.6" x2="49.8" y2="241.6" stroke="#00BFC4" stroke-width="2.6" stroke-linecap="round"/>
<line x1="40.5" y1="272.6" x2="49.8" y2="272.6" stroke="#C77CFF" stroke-width="2.6" stroke-linecap="round"/>
<line x1="40.5" y1="280.3" x2="49.8" y2="280.3" stroke="#C77CFF" stroke-width="2.6" stroke-linecap="round"/>
<line x1="40.5" y1="269.3" x2="49.8" y2="269.3" stroke="#C77CFF" stroke-width="2.6" stroke-linecap="round"/>
<line x1="40.5" y1="312.8" x2="49.8" y2="312.8" stroke="#7CAE00" stroke-width="2.6" stroke-linecap="round"/>
<line x1="40.5" y1="322.1" x2="49.8" y2="322.1" stroke="#7CAE00" stroke-width="2.6" stroke-linecap="round"/>
<line x1="40.5" y1="317.7" x2="49.8" y2="317.7" stroke="#00BFC4" stroke-width="2.6" stroke-linecap="round"/>
<line x1="40.5" y1="335.5" x2="49.8" y2="335.5" stroke="#00BFC4" stroke-width="2.6" stroke-linecap="round"/>
<line x1="40.5" y1="335.5" x2="49.8" y2="335.5" stroke="#F8766D" stroke-width="2.6" stroke-linecap="round"/>
<line x1="40.5" y1="303.9" x2="49.8" y2="303.9" stroke="#00BFC4" stroke-width="2.6" stroke-linecap="round"/>
<line x1="40.5" y1="316.9" x2="49.8" y2="316.9" stroke="#00BFC4" stroke-width="2.6" stroke-linecap="round"/>
<line x1="40.5" y1="321.4" x2="49.8" y2="321.4" stroke="#00BFC4" stroke-width="2.6" stroke-linecap="round"/>
<line x1="40.5" y1="294.4" x2="49.8" y2="294.4" stroke="#00BFC4" stroke-width="2.6" stroke-linecap="round"/>
<line x1="40.5" y1="298.8" x2="49.8" y2="298.8" stroke="#C77CFF" stroke-width="2.6" stroke-linecap="round"/>
<line x1="40.5" y1="302.2" x2="49.8" y2="302.2" stroke="#00BFC4" stroke-width="2.6" stroke-linecap="round"/>
<line x1="40.5" y1="350.3" x2="49.8" y2="350.3" stroke="#00BFC4" stroke-width="2.6" stroke-linecap="round"/>
<line x1="40.5" y1="349.8" x2="49.8" y2="349.8" stroke="#C77CFF" stroke-width="2.6" stroke-linecap="round"/>
<line x1="40.5" y1="370.7" x2="49.8" y2="370.7" stroke="#00BFC4" stroke-width="2.6" stroke-linecap="round"/>
<line x1="40.5" y1="372.7" x2="49.8" y2="372.7" stroke="#00BFC4" stroke-width="2.6" stroke-linecap="round"/>
<line x1="40.5" y1="422.2" x2="49.8" y2="422.2" stroke="#7CAE00" stroke-width="2.6" stroke-linecap="round"/>
<line x1="40.5" y1="436.6" x2="49.8" y2="436.6" stroke="#00BFC4" stroke-width="2.6" stroke-linecap="round"/>
<line x1="40.5" y1="453.0" x2="49.8" y2="453.0" stroke="#7CAE00" stroke-width="2.6" stroke-linecap="round"/>
<line x1="40.5" y1="453.6" x2="49.8" y2="453.6" stroke="#7CAE00" stroke-width="2.6" stroke-linecap="round"/>
<line x1="40.5" y1="311.2" x2="49.8" y2="311.2" stroke="#C77CFF" stroke-width="2.6" stroke-linecap="round"/>
<line x1="40.5" y1="358.3" x2="49.8" y2="358.3" stroke="#F8766D" stroke-width="2.6" stroke-linecap="round"/>
<line x1="40.5" y1="93.5" x2="49.8" y2="93.5" stroke="#00BFC4" stroke-width="2.6" stroke-linecap="round"/>
<line x1="40.5" y1="93.5" x2="49.8" y2="93.5" stroke="#00BFC4" stroke-width="2.6" stroke-linecap="round"/>
<line x1="40.5" y1="97.4" x2="49.8" y2="97.4" stroke="#F8766D" stroke-width="2.6" stroke-linecap="round"/>
<line x1="40.5" y1="95.2" x2="49.8" y2="95.2" stroke="#F8766D" stroke-width="2.6" stroke-linecap="round"/>
<line x1="40.5" y1="128.6" x2="49.8" y2="128.6" stroke="#00BFC4" stroke-width="2.6" stroke-linecap="round"/>
<line x1="40.5" y1="129.6" x2="49.8" y2="129.6" stroke="#00BFC4" stroke-width="2.6" stroke-linecap="round"/>
<line x1="40.5" y1="133.7" x2="49.8" y2="133.7" stroke="#F8766D" stroke-width="2.6" stroke-linecap="round"/>
<line x1="40.5" y1="134.9" x2="49.8" y2="134.9" stroke="#00BFC4" stroke-width="2.6" stroke-linecap="round"/>
<line x1="40.5" y1="139.7" x2="49.8" y2="139.7" stroke="#C77CFF" stroke-width="2.6" stroke-linecap="round"/>
<line x1="40.5" y1="143.8" x2="49.8" y2="143.8" stroke="#F8766D" stroke-width="2.6" stroke-linecap="round"/>
<line x1="40.5" y1="144.1" x2="49.8" y2="144.1" stroke="#F8766D" stroke-width="2.6" stroke-linecap="round"/>
<line x1="40.5" y1="142.3" x2="49.8" y2="142.3" stroke="#F8766D" stroke-width="2.6" stroke-linecap="round"/>
<line x1="40.5" y1="145.3" x2="49.8" y2="145.3" stroke="#00BFC4" stroke-width="2.6" stroke-linecap="round"/>
<line x1="40.5" y1="147.8" x2="49.8" y2="147.8" stroke="#00BFC4" stroke-width="2.6" stroke-linecap="round"/>
<line x1="40.5" y1="151.3" x2="49.8" y2="151.3" stroke="#F8766D" stroke-width="2.6" stroke-linecap="round"/>
<line x1="40.5" y1="152.5" x2="49.8" y2="152.5" stroke="#F8766D" stroke-width="2.6" stroke-linecap="round"/>
<line x1="40.5" y1="158.7" x2="49.8" y2="158.7" stroke="#00BFC4" stroke-width="2.6" stroke-linecap="round"/>
<line x1="40.5" y1="161.3" x2="49.8" y2="161.3" stroke="#00BFC4" stroke-width="2.6" stroke-linecap="round"/>
<line x1="40.5" y1="158.9" x2="49.8" y2="158.9" stroke="#00BFC4" stroke-width="2.6" stroke-linecap="round"/>
<line x1="40.5" y1="164.5" x2="49.8" y2="164.5" stroke="#F8766D" stroke-width="2.6" stroke-linecap="round"/>
<line x1="40.5" y1="166.5" x2="49.8" y2="166.5" stroke="#7CAE00" stroke-width="2.6" stroke-linecap="round"/>
<line x1="40.5" y1="171.4" x2="49.8" y2="171.4" stroke="#C77CFF" stroke-width="2.6" stroke-linecap="round"/>
<line x1="40.5" y1="168.9" x2="49.8" y2="168.9" stroke="#C77CFF" stroke-width="2.6" stroke-linecap="round"/>
<line x1="40.5" y1="168.5" x2="49.8" y2="168.5" stroke="#C77CFF" stroke-width="2.6" stroke-linecap="round"/>
<line x1="40.5" y1="174.1" x2="49.8" y2="174.1" stroke="#F8766D" stroke-width="2.6" stroke-linecap="round"/>
<line x1="40.5" y1="175.1" x2="49.8" y2="175.1" stroke="#F8766D" stroke-width="2.6" stroke-linecap="round"/>
<line x1="40.5" y1="174.8" x2="49.8" y2="174.8" stroke="#F8766D" stroke-width="2.6" stroke-linecap="round"/>
<line x1="40.5" y1="178.8" x2="49.8" y2="178.8" stroke="#7CAE00" stroke-width="2.6" stroke-linecap="round"/>
<line x1="40.5" y1="180.7" x2="49.8" y2="180.7" stroke="#C77CFF" stroke-width="2.6" stroke-linecap="round"/>
<line x1="40.5" y1="182.5" x2="49.8" y2="182.5" stroke="#C77CFF" stroke-width="2.6" stroke-linecap="round"/>
<line x1="40.5" y1="184.0" x2="49.8" y2="184.0" stroke="#7CAE00" stroke-width="2.6" stroke-linecap="round"/>
<line x1="40.5" y1="187.2" x2="49.8" y2="187.2" stroke="#C77CFF" stroke-width="2.6" stroke-linecap="round"/>
<line x1="40.5" y1="189.9" x2="49.8" y2="189.9" stroke="#00BFC4" stroke-width="2.6" stroke-linecap="round"/>
<line x1="40.5" y1="192.1" x2="49.8" y2="192.1" stroke="#F8766D" stroke-width="2.6" stroke-linecap="round"/>
<line x1="40.5" y1="197.3" x2="49.8" y2="197.3" stroke="#C77CFF" stroke-width="2.6" stroke-linecap="round"/>
<line x1="40.5" y1="198.0" x2="49.8" y2="198.0" stroke="#C77CFF" stroke-width="2.6" stroke-linecap="round"/>
<line x1="40.5" y1="204.4" x2="49.8" y2="204.4" stroke="#7CAE00" stroke-width="2.6" stroke-linecap="round"/>
<line x1="40.5" y1="203.2" x2="49.8" y2="203.2" stroke="#7CAE00" stroke-width="2.6" stroke-linecap="round"/>
<line x1="40.5" y1="206.4" x2="49.8" y2="206.4" stroke="#00BFC4" stroke-width="2.6" stroke-linecap="round"/>
<line x1="40.5" y1="207.9" x2="49.8" y2="207.9" stroke="#F8766D" stroke-width="2.6" stroke-linecap="round"/>
<line x1="40.5" y1="209.1" x2="49.8" y2="209.1" stroke="#00BFC4" stroke-width="2.6" stroke-linecap="round"/>
<line x1="40.5" y1="213.4" x2="49.8" y2="213.4" stroke="#00BFC4" stroke-width="2.6" stroke-linecap="round"/>
<line x1="40.5" y1="215.0" x2="49.8" y2="215.0" stroke="#7CAE00" stroke-width="2.6" stroke-linecap="round"/>
<line x1="40.5" y1="218.0" x2="49.8" y2="218.0" stroke="#C77CFF" stroke-width="2.6" stroke-linecap="round"/>
<line x1="40.5" y1="220.5" x2="49.8" y2="220.5" stroke="#C77CFF" stroke-width="2.6" stroke-linecap="round"/>
<line x1="40.5" y1="220.7" x2="49.8" y2="220.7" stroke="#C77CFF" stroke-width="2.6" stroke-linecap="round"/>
<line x1="40.5" y1="222.6" x2="49.8" y2="222.6" stroke="#F8766D" stroke-width="2.6" stroke-linecap="round"/>
<line x1="40.5" y1="224.2" x2="49.8" y2="224.2" stroke="#00BFC4" stroke-width="2.6" stroke-linecap="round"/>
<line x1="40.5" y1="229.0" x2="49.8" y2="229.0" stroke="#7CAE00" stroke-width="2.6" stroke-linecap="round"/>
<line x1="40.5" y1="229.5" x2="49.8" y2="229.5" stroke="#00BFC4" stroke-width="2.6" stroke-linecap="round"/>
<line x1="40.5" y1="233.5" x2="49.8" y2="233.5" stroke="#7CAE00" stroke-width="2.6" stroke-linecap="round"/>
<line x1="40.5" y1="237.2" x2="49.8" y2="237.2" stroke="#C77CFF" stroke-width="2.6" stroke-linecap="round"/>
<line x1="40.5" y1="237.2" x2="49.8" y2="237.2" stroke="#C77CFF" stroke-width="2.6" stroke-linecap="round"/>
<line x1="40.5" y1="249.0" x2="49.8" y2="249.0" stroke="#7CAE00" stroke-width="2.6" stroke-linecap="round"/>
<line x1="40.5" y1="252.0" x2="49.8" y2="252.0" stroke="#00BFC4" stroke-width="2.6" stroke-linecap="round"/>
<line x1="64.0" y1="475.5" x2="64.0" y2="466.8" stroke="#C77CFF" stroke-width="2.6" stroke-linecap="round"/>
<line x1="120.1" y1="475.5" x2="120.1" y2="466.8" stroke="#F8766D" stroke-width="2.6" stroke-linecap="round"/>
<line x1="64.0" y1="475.5" x2="64.0" y2="466.8" stroke="#7CAE00" stroke-width="2.6" stroke-linecap="round"/>
<line x1="74.6" y1="475.5" x2="74.6" y2="466.8" stroke="#00BFC4" stroke-width="2.6" stroke-linecap="round"/>
<line x1="229.2" y1="475.5" x2="229.2" y2="466.8" stroke="#C77CFF" stroke-width="2.6" stroke-linecap="round"/>
<line x1="253.2" y1="475.5" x2="253.2" y2="466.8" stroke="#F8766D" stroke-width="2.6" stroke-linecap="round"/>
<line x1="261.8" y1="475.5" x2="261.8" y2="466.8" stroke="#F8766D" stroke-width="2.6" stroke-linecap="round"/>
<line x1="352.1" y1="475.5" x2="352.1" y2="466.8" stroke="#F8766D" stroke-width="2.6" stroke-linecap="round"/>
<line x1="374.9" y1="475.5" x2="374.9" y2="466.8" stroke="#00BFC4" stroke-width="2.6" stroke-linecap="round"/>
<line x1="387.7" y1="475.5" x2="387.7" y2="466.8" stroke="#F8766D" stroke-width="2.6" stroke-linecap="round"/>
<line x1="357.5" y1="475.5" x2="357.5" y2="466.8" stroke="#F8766D" stroke-width="2.6" stroke-linecap="round"/>
<line x1="372.1" y1="475.5" x2="372.1" y2="466.8" stroke="#C77CFF" stroke-width="2.6" stroke-linecap="round"/>
<line x1="397.6" y1="475.5" x2="397.6" y2="466.8" stroke="#F8766D" stroke-width="2.6" stroke-linecap="round"/>
<line x1="71.0" y1="475.5" x2="71.0" y2="466.8" stroke="#7CAE00" stroke-width="2.6" stroke-linecap="round"/>
<line x1="100.1" y1="475.5" x2="100.1" y2="466.8" stroke="#F8766D" stroke-width="2.6" stroke-linecap="round"/>
<line x1="188.1" y1="475.5" x2="188.1" y2="466.8" stroke="#C77CFF" stroke-width="2.6" stroke-linecap="round"/>
<line x1="210.1" y1="475.5" x2="210.1" y2="466.8" stroke="#C77CFF" stroke-width="2.6" stroke-linecap="round"/>
<line x1="262.8" y1="475.5" x2="262.8" y2="466.8" stroke="#F8766D" stroke-width="2.6" stroke-linecap="round"/>
<line x1="256.2" y1="475.5" x2="256.2" y2="466.8" stroke="#F8766D" stroke-width="2.6" stroke-linecap="round"/>
<line x1="292.2" y1="475.5" x2="292.2" y2="466.8" stroke="#F8766D" stroke-width="2.6" stroke-linecap="round"/>
<line x1="293.4" y1="475.5" x2="293.4" y2="466.8" stroke="#C77CFF" stroke-width="2.6" stroke-linecap="round"/>
<line x1="294.0" y1="475.5" x2="294.0" y2="466.8" stroke="#F8766D" stroke-width="2.6" stroke-linecap="round"/>
<line x1="321.5" y1="475.5" x2="321.5" y2="466.8" stroke="#F8766D" stroke-width="2.6" stroke-linecap="round"/>
<line x1="329.1" y1="475.5" x2="329.1" y2="466.8" stroke="#F8766D" stroke-width="2.6" stroke-linecap="round"/>
<line x1="314.0" y1="475.5" x2="314.0" y2="466.8" stroke="#F8766D" stroke-width="2.6" stroke-linecap="round"/>
<line x1="365.5" y1="475.5" x2="365.5" y2="466.8" stroke="#F8766D" stroke-width="2.6" stroke-linecap="round"/>
<line x1="168.1" y1="475.5" x2="168.1" y2="466.8" stroke="#F8766D" stroke-width="2.6" stroke-linecap="round"/>
<line x1="181.4" y1="475.5" x2="181.4" y2="466.8" stroke="#F8766D" stroke-width="2.6" stroke-linecap="round"/>
<line x1="185.4" y1="475.5" x2="185.4" y2="466.8" stroke="#F8766D" stroke-width="2.6" stroke-linecap="round"/>
<line x1="182.4" y1="475.5" x2="182.4" y2="466.8" stroke="#C77CFF" stroke-width="2.6" stroke-linecap="round"/>
<line x1="202.4" y1="475.5" x2="202.4" y2="466.8" stroke="#00BFC4" stroke-width="2.6" stroke-linecap="round"/>
<line x1="185.4" y1="475.5" x2="185.4" y2="466.8" stroke="#00BFC4" stroke-width="2.6" stroke-linecap="round"/>
<line x1="139.6" y1="475.5" x2="139.6" y2="466.8" stroke="#F8766D" stroke-width="2.6" stroke-linecap="round"/>
<line x1="134.0" y1="475.5" x2="134.0" y2="466.8" stroke="#7CAE00" stroke-width="2.6" stroke-linecap="round"/>
<line x1="149.2" y1="475.5" x2="149.2" y2="466.8" stroke="#F8766D" stroke-width="2.6" stroke-linecap="round"/>
<line x1="147.9" y1="475.5" x2="147.9" y2="466.8" stroke="#00BFC4" stroke-width="2.6" stroke-linecap="round"/>
<line x1="114.6" y1="475.5" x2="114.6" y2="466.8" stroke="#F8766D" stroke-width="2.6" stroke-linecap="round"/>
<line x1="61.9" y1="475.5" x2="61.9" y2="466.8" stroke="#00BFC4" stroke-width="2.6" stroke-linecap="round"/>
<line x1="64.4" y1="475.5" x2="64.4" y2="466.8" stroke="#7CAE00" stroke-width="2.6" stroke-linecap="round"/>
<line x1="73.7" y1="475.5" x2="73.7" y2="466.8" stroke="#00BFC4" stroke-width="2.6" stroke-linecap="round"/>
<line x1="78.1" y1="475.5" x2="78.1" y2="466.8" stroke="#00BFC4" stroke-width="2.6" stroke-linecap="round"/>
<line x1="62.2" y1="475.5" x2="62.2" y2="466.8" stroke="#00BFC4" stroke-width="2.6" stroke-linecap="round"/>
<line x1="63.6" y1="475.5" x2="63.6" y2="466.8" stroke="#7CAE00" stroke-width="2.6" stroke-linecap="round"/>
<line x1="68.8" y1="475.5" x2="68.8" y2="466.8" stroke="#00BFC4" stroke-width="2.6" stroke-linecap="round"/>
<line x1="72.5" y1="475.5" x2="72.5" y2="466.8" stroke="#F8766D" stroke-width="2.6" stroke-linecap="round"/>
<line x1="64.6" y1="475.5" x2="64.6" y2="466.8" stroke="#7CAE00" stroke-width="2.6" stroke-linecap="round"/>
<line x1="62.7" y1="475.5" x2="62.7" y2="466.8" stroke="#00BFC4" stroke-width="2.6" stroke-linecap="round"/>
<line x1="69.5" y1="475.5" x2="69.5" y2="466.8" stroke="#00BFC4" stroke-width="2.6" stroke-linecap="round"/>
<line x1="71.8" y1="475.5" x2="71.8" y2="466.8" stroke="#7CAE00" stroke-width="2.6" stroke-linecap="round"/>
<line x1="61.4" y1="475.5" x2="61.4" y2="466.8" stroke="#7CAE00" stroke-width="2.6" stroke-linecap="round"/>
<line x1="68.8" y1="475.5" x2="68.8" y2="466.8" stroke="#00BFC4" stroke-width="2.6" stroke-linecap="round"/>
<line x1="75.5" y1="475.5" x2="75.5" y2="466.8" stroke="#7CAE00" stroke-width="2.6" stroke-linecap="round"/>
<line x1="69.5" y1="475.5" x2="69.5" y2="466.8" stroke="#7CAE00" stroke-width="2.6" stroke-linecap="round"/>
<line x1="87.0" y1="475.5" x2="87.0" y2="466.8" stroke="#C77CFF" stroke-width="2.6" stroke-linecap="round"/>
<line x1="92.4" y1="475.5" x2="92.4" y2="466.8" stroke="#C77CFF" stroke-width="2.6" stroke-linecap="round"/>
<line x1="98.0" y1="475.5" x2="98.0" y2="466.8" stroke="#C77CFF" stroke-width="2.6" stroke-linecap="round"/>
<line x1="113.9" y1="475.5" x2="113.9" y2="466.8" stroke="#7CAE00" stroke-width="2.6" stroke-linecap="round"/>
<line x1="124.9" y1="475.5" x2="124.9" y2="466.8" stroke="#C77CFF" stroke-width="2.6" stroke-linecap="round"/>
<line x1="122.7" y1="475.5" x2="122.7" y2="466.8" stroke="#F8766D" stroke-width="2.6" stroke-linecap="round"/>
<line x1="116.8" y1="475.5" x2="116.8" y2="466.8" stroke="#C77CFF" stroke-width="2.6" stroke-linecap="round"/>
<line x1="129.4" y1="475.5" x2="129.4" y2="466.8" stroke="#C77CFF" stroke-width="2.6" stroke-linecap="round"/>
<line x1="107.9" y1="475.5" x2="107.9" y2="466.8" stroke="#00BFC4" stroke-width="2.6" stroke-linecap="round"/>
<line x1="80.2" y1="475.5" x2="80.2" y2="466.8" stroke="#7CAE00" stroke-width="2.6" stroke-linecap="round"/>
<line x1="64.4" y1="475.5" x2="64.4" y2="466.8" stroke="#F8766D" stroke-width="2.6" stroke-linecap="round"/>
<line x1="69.5" y1="475.5" x2="69.5" y2="466.8" stroke="#00BFC4" stroke-width="2.6" stroke-linecap="round"/>
<line x1="66.6" y1="475.5" x2="66.6" y2="466.8" stroke="#7CAE00" stroke-width="2.6" stroke-linecap="round"/>
<line x1="63.5" y1="475.5" x2="63.5" y2="466.8" stroke="#00BFC4" stroke-width="2.6" stroke-linecap="round"/>
<line x1="62.2" y1="475.5" x2="62.2" y2="466.8" stroke="#7CAE00" stroke-width="2.6" stroke-linecap="round"/>
<line x1="62.9" y1="475.5" x2="62.9" y2="466.8" stroke="#C77CFF" stroke-width="2.6" stroke-linecap="round"/>
<line x1="69.8" y1="475.5" x2="69.8" y2="466.8" stroke="#7CAE00" stroke-width="2.6" stroke-linecap="round"/>
<line x1="62.2" y1="475.5" x2="62.2" y2="466.8" stroke="#7CAE00" stroke-width="2.6" stroke-linecap="round"/>
<line x1="69.5" y1="475.5" x2="69.5" y2="466.8" stroke="#7CAE00" stroke-width="2.6" stroke-linecap="round"/>
<line x1="62.6" y1="475.5" x2="62.6" y2="466.8" stroke="#00BFC4" stroke-width="2.6" stroke-linecap="round"/>
<line x1="64.5" y1="475.5" x2="64.5" y2="466.8" stroke="#00BFC4" stroke-width="2.6" stroke-linecap="round"/>
<line x1="152.9" y1="475.5" x2="152.9" y2="466.8" stroke="#C77CFF" stroke-width="2.6" stroke-linecap="round"/>
<line x1="160.3" y1="475.5" x2="160.3" y2="466.8" stroke="#F8766D" stroke-width="2.6" stroke-linecap="round"/>
<line x1="164.0" y1="475.5" x2="164.0" y2="466.8" stroke="#C77CFF" stroke-width="2.6" stroke-linecap="round"/>
<line x1="178.7" y1="475.5" x2="178.7" y2="466.8" stroke="#C77CFF" stroke-width="2.6" stroke-linecap="round"/>
<line x1="180.5" y1="475.5" x2="180.5" y2="466.8" stroke="#C77CFF" stroke-width="2.6" stroke-linecap="round"/>
<line x1="186.4" y1="475.5" x2="186.4" y2="466.8" stroke="#C77CFF" stroke-width="2.6" stroke-linecap="round"/>
<line x1="183.2" y1="475.5" x2="183.2" y2="466.8" stroke="#F8766D" stroke-width="2.6" stroke-linecap="round"/>
<line x1="169.6" y1="475.5" x2="169.6" y2="466.8" stroke="#F8766D" stroke-width="2.6" stroke-linecap="round"/>
<line x1="208.7" y1="475.5" x2="208.7" y2="466.8" stroke="#F8766D" stroke-width="2.6" stroke-linecap="round"/>
<line x1="213.9" y1="475.5" x2="213.9" y2="466.8" stroke="#C77CFF" stroke-width="2.6" stroke-linecap="round"/>
<line x1="213.5" y1="475.5" x2="213.5" y2="466.8" stroke="#C77CFF" stroke-width="2.6" stroke-linecap="round"/>
<line x1="285.3" y1="475.5" x2="285.3" y2="466.8" stroke="#C77CFF" stroke-width="2.6" stroke-linecap="round"/>
<line x1="290.9" y1="475.5" x2="290.9" y2="466.8" stroke="#F8766D" stroke-width="2.6" stroke-linecap="round"/>
<line x1="282.0" y1="475.5" x2="282.0" y2="466.8" stroke="#F8766D" stroke-width="2.6" stroke-linecap="round"/>
<line x1="228.1" y1="475.5" x2="228.1" y2="466.8" stroke="#F8766D" stroke-width="2.6" stroke-linecap="round"/>
<line x1="251.8" y1="475.5" x2="251.8" y2="466.8" stroke="#C77CFF" stroke-width="2.6" stroke-linecap="round"/>
<line x1="258.8" y1="475.5" x2="258.8" y2="466.8" stroke="#C77CFF" stroke-width="2.6" stroke-linecap="round"/>
<line x1="230.0" y1="475.5" x2="230.0" y2="466.8" stroke="#F8766D" stroke-width="2.6" stroke-linecap="round"/>
<line x1="246.3" y1="475.5" x2="246.3" y2="466.8" stroke="#C77CFF" stroke-width="2.6" stroke-linecap="round"/>
<line x1="246.9" y1="475.5" x2="246.9" y2="466.8" stroke="#C77CFF" stroke-width="2.6" stroke-linecap="round"/>
<line x1="277.6" y1="475.5" x2="277.6" y2="466.8" stroke="#C77CFF" stroke-width="2.6" stroke-linecap="round"/>
<line x1="344.3" y1="475.5" x2="344.3" y2="466.8" stroke="#F8766D" stroke-width="2.6" stroke-linecap="round"/>
<line x1="393.9" y1="475.5" x2="393.9" y2="466.8" stroke="#00BFC4" stroke-width="2.6" stroke-linecap="round"/>
<line x1="453.3" y1="475.5" x2="453.3" y2="466.8" stroke="#F8766D" stroke-width="2.6" stroke-linecap="round"/>
<line x1="492.9" y1="475.5" x2="492.9" y2="466.8" stroke="#F8766D" stroke-width="2.6" stroke-linecap="round"/>
<line x1="406.3" y1="475.5" x2="406.3" y2="466.8" stroke="#F8766D" stroke-width="2.6" stroke-linecap="round"/>
<line x1="87.0" y1="475.5" x2="87.0" y2="466.8" stroke="#C77CFF" stroke-width="2.6" stroke-linecap="round"/>
<line x1="82.1" y1="475.5" x2="82.1" y2="466.8" stroke="#C77CFF" stroke-width="2.6" stroke-linecap="round"/>
<line x1="62.5" y1="475.5" x2="62.5" y2="466.8" stroke="#7CAE00" stroke-width="2.6" stroke-linecap="round"/>
<line x1="61.8" y1="475.5" x2="61.8" y2="466.8" stroke="#00BFC4" stroke-width="2.6" stroke-linecap="round"/>
<line x1="68.1" y1="475.5" x2="68.1" y2="466.8" stroke="#7CAE00" stroke-width="2.6" stroke-linecap="round"/>
<line x1="67.3" y1="475.5" x2="67.3" y2="466.8" stroke="#7CAE00" stroke-width="2.6" stroke-linecap="round"/>
<line x1="62.9" y1="475.5" x2="62.9" y2="466.8" stroke="#7CAE00" stroke-width="2.6" stroke-linecap="round"/>
<line x1="75.5" y1="475.5" x2="75.5" y2="466.8" stroke="#00BFC4" stroke-width="2.6" stroke-linecap="round"/>
<line x1="87.0" y1="475.5" x2="87.0" y2="466.8" stroke="#00BFC4" stroke-width="2.6" stroke-linecap="round"/>
<line x1="96.1" y1="475.5" x2="96.1" y2="466.8" stroke="#00BFC4" stroke-width="2.6" stroke-linecap="round"/>
<line x1="75.2" y1="475.5" x2="75.2" y2="466.8" stroke="#C77CFF" stroke-width="2.6" stroke-linecap="round"/>
<line x1="130.8" y1="475.5" x2="130.8" y2="466.8" stroke="#00BFC4" stroke-width="2.6" stroke-linecap="round"/>
<line x1="129.5" y1="475.5" x2="129.5" y2="466.8" stroke="#C77CFF" stroke-width="2.6" stroke-linecap="round"/>
<line x1="122.7" y1="475.5" x2="122.7" y2="466.8" stroke="#C77CFF" stroke-width="2.6" stroke-linecap="round"/>
<line x1="131.7" y1="475.5" x2="131.7" y2="466.8" stroke="#C77CFF" stroke-width="2.6" stroke-linecap="round"/>
<line x1="62.2" y1="475.5" x2="62.2" y2="466.8" stroke="#C77CFF" stroke-width="2.6" stroke-linecap="round"/>
<line x1="65.8" y1="475.5" x2="65.8" y2="466.8" stroke="#00BFC4" stroke-width="2.6" stroke-linecap="round"/>
<line x1="68.1" y1="475.5" x2="68.1" y2="466.8" stroke="#00BFC4" stroke-width="2.6" stroke-linecap="round"/>
<line x1="103.2" y1="475.5" x2="103.2" y2="466.8" stroke="#00BFC4" stroke-width="2.6" stroke-linecap="round"/>
<line x1="148.5" y1="475.5" x2="148.5" y2="466.8" stroke="#00BFC4" stroke-width="2.6" stroke-linecap="round"/>
<line x1="218.2" y1="475.5" x2="218.2" y2="466.8" stroke="#00BFC4" stroke-width="2.6" stroke-linecap="round"/>
<line x1="230.6" y1="475.5" x2="230.6" y2="466.8" stroke="#C77CFF" stroke-width="2.6" stroke-linecap="round"/>
<line x1="240.4" y1="475.5" x2="240.4" y2="466.8" stroke="#C77CFF" stroke-width="2.6" stroke-linecap="round"/>
<line x1="266.5" y1="475.5" x2="266.5" y2="466.8" stroke="#F8766D" stroke-width="2.6" stroke-linecap="round"/>
<line x1="269.8" y1="475.5" x2="269.8" y2="466.8" stroke="#00BFC4" stroke-width="2.6" stroke-linecap="round"/>
<line x1="269.0" y1="475.5" x2="269.0" y2="466.8" stroke="#C77CFF" stroke-width="2.6" stroke-linecap="round"/>
<line x1="252.8" y1="475.5" x2="252.8" y2="466.8" stroke="#C77CFF" stroke-width="2.6" stroke-linecap="round"/>
<line x1="383.4" y1="475.5" x2="383.4" y2="466.8" stroke="#C77CFF" stroke-width="2.6" stroke-linecap="round"/>
<line x1="68.1" y1="475.5" x2="68.1" y2="466.8" stroke="#7CAE00" stroke-width="2.6" stroke-linecap="round"/>
<line x1="62.9" y1="475.5" x2="62.9" y2="466.8" stroke="#7CAE00" stroke-width="2.6" stroke-linecap="round"/>
<line x1="62.2" y1="475.5" x2="62.2" y2="466.8" stroke="#00BFC4" stroke-width="2.6" stroke-linecap="round"/>
<line x1="65.8" y1="475.5" x2="65.8" y2="466.8" stroke="#00BFC4" stroke-width="2.6" stroke-linecap="round"/>
<line x1="91.7" y1="475.5" x2="91.7" y2="466.8" stroke="#F8766D" stroke-width="2.6" stroke-linecap="round"/>
<line x1="106.5" y1="475.5" x2="106.5" y2="466.8" stroke="#00BFC4" stroke-width="2.6" stroke-linecap="round"/>
<line x1="105.0" y1="475.5" x2="105.0" y2="466.8" stroke="#00BFC4" stroke-width="2.6" stroke-linecap="round"/>
<line x1="108.7" y1="475.5" x2="108.7" y2="466.8" stroke="#00BFC4" stroke-width="2.6" stroke-linecap="round"/>
<line x1="140.4" y1="475.5" x2="140.4" y2="466.8" stroke="#00BFC4" stroke-width="2.6" stroke-linecap="round"/>
<line x1="146.6" y1="475.5" x2="146.6" y2="466.8" stroke="#C77CFF" stroke-width="2.6" stroke-linecap="round"/>
<line x1="133.0" y1="475.5" x2="133.0" y2="466.8" stroke="#00BFC4" stroke-width="2.6" stroke-linecap="round"/>
<line x1="79.4" y1="475.5" x2="79.4" y2="466.8" stroke="#00BFC4" stroke-width="2.6" stroke-linecap="round"/>
<line x1="85.0" y1="475.5" x2="85.0" y2="466.8" stroke="#C77CFF" stroke-width="2.6" stroke-linecap="round"/>
<line x1="64.8" y1="475.5" x2="64.8" y2="466.8" stroke="#00BFC4" stroke-width="2.6" stroke-linecap="round"/>
<line x1="72.2" y1="475.5" x2="72.2" y2="466.8" stroke="#00BFC4" stroke-width="2.6" stroke-linecap="round"/>
<line x1="65.4" y1="475.5" x2="65.4" y2="466.8" stroke="#7CAE00" stroke-width="2.6" stroke-linecap="round"/>
<line x1="88.8" y1="475.5" x2="88.8" y2="466.8" stroke="#00BFC4" stroke-width="2.6" stroke-linecap="round"/>
<line x1="62.6" y1="475.5" x2="62.6" y2="466.8" stroke="#7CAE00" stroke-width="2.6" stroke-linecap="round"/>
<line x1="63.6" y1="475.5" x2="63.6" y2="466.8" stroke="#7CAE00" stroke-width="2.6" stroke-linecap="round"/>
<line x1="503.8" y1="475.5" x2="503.8" y2="466.8" stroke="#C77CFF" stroke-width="2.6" stroke-linecap="round"/>
<line x1="378.1" y1="475.5" x2="378.1" y2="466.8" stroke="#F8766D" stroke-width="2.6" stroke-linecap="round"/>
<line x1="64.0" y1="475.5" x2="64.0" y2="466.8" stroke="#7CAE00" stroke-width="2.6" stroke-linecap="round"/>
<line x1="64.4" y1="475.5" x2="64.4" y2="466.8" stroke="#7CAE00" stroke-width="2.6" stroke-linecap="round"/>
<line x1="64.6" y1="475.5" x2="64.6" y2="466.8" stroke="#7CAE00" stroke-width="2.6" stroke-linecap="round"/>
<line x1="66.6" y1="475.5" x2="66.6" y2="466.8" stroke="#7CAE00" stroke-width="2.6" stroke-linecap="round"/>
<line x1="68.1" y1="475.5" x2="68.1" y2="466.8" stroke="#7CAE00" stroke-width="2.6" stroke-linecap="round"/>
<line x1="67.3" y1="475.5" x2="67.3" y2="466.8" stroke="#7CAE00" stroke-width="2.6" stroke-linecap="round"/>
<line x1="68.1" y1="475.5" x2="68.1" y2="466.8" stroke="#7CAE00" stroke-width="2.6" stroke-linecap="round"/>
<line x1="65.4" y1="475.5" x2="65.4" y2="466.8" stroke="#7CAE00" stroke-width="2.6" stroke-linecap="round"/>
<line x1="61.9" y1="475.5" x2="61.9" y2="466.8" stroke="#00BFC4" stroke-width="2.6" stroke-linecap="round"/>
<line x1="62.2" y1="475.5" x2="62.2" y2="466.8" stroke="#00BFC4" stroke-width="2.6" stroke-linecap="round"/>
<line x1="62.7" y1="475.5" x2="62.7" y2="466.8" stroke="#00BFC4" stroke-width="2.6" stroke-linecap="round"/>
<line x1="63.5" y1="475.5" x2="63.5" y2="466.8" stroke="#00BFC4" stroke-width="2.6" stroke-linecap="round"/>
<line x1="62.6" y1="475.5" x2="62.6" y2="466.8" stroke="#00BFC4" stroke-width="2.6" stroke-linecap="round"/>
<line x1="61.8" y1="475.5" x2="61.8" y2="466.8" stroke="#00BFC4" stroke-width="2.6" stroke-linecap="round"/>
<line x1="62.2" y1="475.5" x2="62.2" y2="466.8" stroke="#00BFC4" stroke-width="2.6" stroke-linecap="round"/>
<line x1="69.5" y1="475.5" x2="69.5" y2="466.8" stroke="#00BFC4" stroke-width="2.6" stroke-linecap="round"/>
<line x1="69.5" y1="475.5" x2="69.5" y2="466.8" stroke="#00BFC4" stroke-width="2.6" stroke-linecap="round"/>
<line x1="71.0" y1="475.5" x2="71.0" y2="466.8" stroke="#7CAE00" stroke-width="2.6" stroke-linecap="round"/>
<line x1="71.8" y1="475.5" x2="71.8" y2="466.8" stroke="#7CAE00" stroke-width="2.6" stroke-linecap="round"/>
<line x1="74.6" y1="475.5" x2="74.6" y2="466.8" stroke="#00BFC4" stroke-width="2.6" stroke-linecap="round"/>
<line x1="73.7" y1="475.5" x2="73.7" y2="466.8" stroke="#00BFC4" stroke-width="2.6" stroke-linecap="round"/>
<line x1="78.1" y1="475.5" x2="78.1" y2="466.8" stroke="#00BFC4" stroke-width="2.6" stroke-linecap="round"/>
<line x1="75.5" y1="475.5" x2="75.5" y2="466.8" stroke="#00BFC4" stroke-width="2.6" stroke-linecap="round"/>
<line x1="79.4" y1="475.5" x2="79.4" y2="466.8" stroke="#00BFC4" stroke-width="2.6" stroke-linecap="round"/>
<line x1="92.4" y1="475.5" x2="92.4" y2="466.8" stroke="#C77CFF" stroke-width="2.6" stroke-linecap="round"/>
<line x1="114.6" y1="475.5" x2="114.6" y2="466.8" stroke="#F8766D" stroke-width="2.6" stroke-linecap="round"/>
<path d="M62.00 -1.16V2.84M62.00 9.10V13.10M62.00 19.36V23.36M62.00 29.63V33.63M62.00 39.89V43.89M62.00 50.15V54.15M62.00 60.41V64.41M62.00 70.68V74.68M62.00 80.94V84.94M62.00 91.20V95.20M62.00 101.47V105.47M62.00 111.73V115.73M62.00 121.99V125.99M62.00 132.26V136.26M62.00 142.52V146.52M62.00 152.78V156.78M62.00 163.04V167.04M62.00 173.31V177.31M62.00 183.57V187.57M62.00 193.83V197.83M62.00 204.10V208.10M62.00 214.36V218.36M62.00 224.62V228.62M62.00 234.89V238.89M62.00 245.15V249.15M62.00 255.41V259.41M62.00 265.68V269.68M62.00 275.94V279.94M62.00 286.20V290.20M62.00 296.46V300.46M62.00 306.73V310.73M62.00 316.99V320.99M62.00 327.25V331.25M62.00 337.52V341.52M62.00 347.78V351.78M62.00 358.04V362.04M62.00 368.31V372.31M62.00 378.57V382.57M62.00 388.83V392.83M62.00 399.09V403.09M62.00 409.36V413.36M62.00 419.62V423.62M62.00 429.88V433.88M62.00 440.15V444.15M62.00 450.41V454.41M62.00 460.67V464.67M62.00 470.94V474.94M40.15 201.35H44.15M50.42 201.35H54.42M60.70 201.35H64.70M70.98 201.35H74.98M81.25 201.35H85.25M91.53 201.35H95.53M101.80 201.35H105.80M112.08 201.35H116.08M122.36 201.35H126.36M132.63 201.35H136.63M142.91 201.35H146.91M153.18 201.35H157.18M163.46 201.35H167.46M173.74 201.35H177.74M184.01 201.35H188.01M194.29 201.35H198.29M204.56 201.35H208.56M214.84 201.35H218.84M225.12 201.35H229.12M235.39 201.35H239.39M245.67 201.35H249.67M255.94 201.35H259.94M266.22 201.35H270.22M276.50 201.35H280.50M286.77 201.35H290.77M297.05 201.35H301.05M307.32 201.35H311.32M317.60 201.35H321.60M327.88 201.35H331.88M338.15 201.35H342.15M348.43 201.35H352.43M358.70 201.35H362.70M368.98 201.35H372.98M379.26 201.35H383.26M389.53 201.35H393.53M399.81 201.35H403.81M410.08 201.35H414.08M420.36 201.35H424.36M430.64 201.35H434.64M440.91 201.35H444.91M451.19 201.35H455.19M461.46 201.35H465.46M471.74 201.35H475.74M482.02 201.35H486.02M492.29 201.35H496.29M502.57 201.35H506.57M512.84 201.35H516.84M523.12 201.35H527.12" stroke="#141414" stroke-width="1.65" stroke-linecap="round" fill="none"/>
</g>
<path d="M256.5 302.5H475.7V370H480.8V454.5H256.5Z" fill="#fff"/>
<line x1="289.5" y1="306.5" x2="289.5" y2="441.5" stroke="#d9d9d9" stroke-width="0.8"/>
<rect x="289.6" y="313.2" width="72.6" height="6.8" fill="#8497B0"/>
<rect x="289.6" y="320.0" width="27.2" height="6.9" fill="#FFC000"/>
<text x="283.8" y="322.4" font-size="6.8" fill="#262626" stroke="#262626" stroke-width="0.22" text-anchor="end">Low</text>
<rect x="289.6" y="340.2" width="75.2" height="6.8" fill="#8497B0"/>
<rect x="289.6" y="347.0" width="37.4" height="6.9" fill="#FFC000"/>
<text x="283.8" y="349.4" font-size="6.8" fill="#262626" stroke="#262626" stroke-width="0.22" text-anchor="end">Lower</text>
<rect x="289.6" y="367.2" width="50.1" height="6.8" fill="#8497B0"/>
<rect x="289.6" y="374.0" width="57.7" height="6.9" fill="#FFC000"/>
<text x="283.8" y="376.4" font-size="6.8" fill="#262626" stroke="#262626" stroke-width="0.22" text-anchor="end">Upper</text>
<rect x="289.6" y="394.1" width="22.5" height="6.8" fill="#8497B0"/>
<rect x="289.6" y="400.9" width="83.0" height="6.9" fill="#FFC000"/>
<text x="283.8" y="403.3" font-size="6.8" fill="#262626" stroke="#262626" stroke-width="0.22" text-anchor="end">High</text>
<rect x="289.6" y="420.9" width="196.4" height="6.8" fill="#8497B0"/>
<rect x="289.6" y="427.7" width="206.4" height="6.9" fill="#FFC000"/>
<text x="283.8" y="430.1" font-size="6.8" fill="#262626" stroke="#262626" stroke-width="0.22" text-anchor="end">Global</text>
<text x="289.4" y="451.8" font-size="6.7" fill="#262626" stroke="#262626" stroke-width="0.22" text-anchor="middle">0</text>
<text x="314.6" y="451.8" font-size="6.7" fill="#262626" stroke="#262626" stroke-width="0.22" text-anchor="middle">10</text>
<text x="339.9" y="451.8" font-size="6.7" fill="#262626" stroke="#262626" stroke-width="0.22" text-anchor="middle">20</text>
<text x="365.1" y="451.8" font-size="6.7" fill="#262626" stroke="#262626" stroke-width="0.22" text-anchor="middle">30</text>
<text x="390.4" y="451.8" font-size="6.7" fill="#262626" stroke="#262626" stroke-width="0.22" text-anchor="middle">40</text>
<text x="415.6" y="451.8" font-size="6.7" fill="#262626" stroke="#262626" stroke-width="0.22" text-anchor="middle">50</text>
<text x="440.8" y="451.8" font-size="6.7" fill="#262626" stroke="#262626" stroke-width="0.22" text-anchor="middle">60</text>
<text x="466.1" y="451.8" font-size="6.7" fill="#262626" stroke="#262626" stroke-width="0.22" text-anchor="middle">70</text>
<text x="491.3" y="451.8" font-size="6.7" fill="#262626" stroke="#262626" stroke-width="0.22" text-anchor="middle">80</text>
<text x="516.6" y="451.8" font-size="6.7" fill="#262626" stroke="#262626" stroke-width="0.22" text-anchor="middle">90</text>
<rect x="40.5" y="0.5" width="485.0" height="475.0" fill="none" stroke="#777" stroke-width="1.3"/>
<line x1="36.1" y1="6.60" x2="40.5" y2="6.60" stroke="#333" stroke-width="1.1"/>
<text x="34.3" y="10.60" font-size="11" fill="#4d4d4d" text-anchor="end">5.0</text>
<line x1="36.1" y1="103.90" x2="40.5" y2="103.90" stroke="#333" stroke-width="1.1"/>
<text x="34.3" y="107.90" font-size="11" fill="#4d4d4d" text-anchor="end">2.5</text>
<line x1="36.1" y1="201.20" x2="40.5" y2="201.20" stroke="#333" stroke-width="1.1"/>
<text x="34.3" y="205.20" font-size="11" fill="#4d4d4d" text-anchor="end">0.0</text>
<line x1="36.1" y1="298.50" x2="40.5" y2="298.50" stroke="#333" stroke-width="1.1"/>
<text x="34.3" y="302.50" font-size="11" fill="#4d4d4d" text-anchor="end">-2.5</text>
<line x1="36.1" y1="395.80" x2="40.5" y2="395.80" stroke="#333" stroke-width="1.1"/>
<text x="34.3" y="399.80" font-size="11" fill="#4d4d4d" text-anchor="end">-5.0</text>
<line x1="61.85" y1="475.5" x2="61.85" y2="479" stroke="#333" stroke-width="1.1"/>
<text x="61.85" y="489.7" font-size="11" fill="#4d4d4d" text-anchor="middle">0</text>
<line x1="178.45" y1="475.5" x2="178.45" y2="479" stroke="#333" stroke-width="1.1"/>
<text x="178.45" y="489.7" font-size="11" fill="#4d4d4d" text-anchor="middle">200</text>
<line x1="295.05" y1="475.5" x2="295.05" y2="479" stroke="#333" stroke-width="1.1"/>
<text x="295.05" y="489.7" font-size="11" fill="#4d4d4d" text-anchor="middle">400</text>
<line x1="411.65" y1="475.5" x2="411.65" y2="479" stroke="#333" stroke-width="1.1"/>
<text x="411.65" y="489.7" font-size="11" fill="#4d4d4d" text-anchor="middle">600</text>
<text x="114.6" y="504.4" font-size="13.3" fill="#000">Cumulative COVID-19 cases per 100 million people /person</text>
<text transform="translate(9.9,323.0) rotate(-90)" x="0" y="0" font-size="13.3" fill="#000">SDG index score growth rate /%</text>
<text x="537.2" y="165.0" font-size="14.1" fill="#000">Country classification</text>
<circle cx="548.5" cy="184.70" r="7.9" fill="#EE8A85"/>
<line x1="541.0" y1="184.70" x2="556.2" y2="184.70" stroke="#E8736C" stroke-width="2.4" stroke-linecap="round"/>
<text x="566.4" y="188.50" font-size="11.3" fill="#111">High income</text>
<circle cx="548.5" cy="209.07" r="7.9" fill="#A98BC3"/>
<line x1="541.0" y1="209.07" x2="556.2" y2="209.07" stroke="#9A70B8" stroke-width="2.4" stroke-linecap="round"/>
<text x="566.4" y="212.87" font-size="11.3" fill="#111">Upper middle income</text>
<circle cx="548.5" cy="233.44" r="7.9" fill="#4CC0C6"/>
<line x1="541.0" y1="233.44" x2="556.2" y2="233.44" stroke="#1AB0B8" stroke-width="2.4" stroke-linecap="round"/>
<text x="566.4" y="237.24" font-size="11.3" fill="#111">Lower middle income</text>
<circle cx="548.5" cy="257.81" r="7.9" fill="#8DBA4A"/>
<line x1="541.0" y1="257.81" x2="556.2" y2="257.81" stroke="#74AA22" stroke-width="2.4" stroke-linecap="round"/>
<text x="566.4" y="261.61" font-size="11.3" fill="#111">Low income</text>
<rect x="531" y="290.7" width="10.9" height="5.7" fill="#F2B418"/>
<rect x="531" y="310" width="10.9" height="5.8" fill="#8393AB"/>
<text x="546.6" y="297.1" font-size="11.3" fill="#111">SDGs index growth rate &gt; 0</text>
<text x="546.6" y="316.3" font-size="11.3" fill="#111">SDGs index growth rate &lt; 0</text>
</svg></body></html>
